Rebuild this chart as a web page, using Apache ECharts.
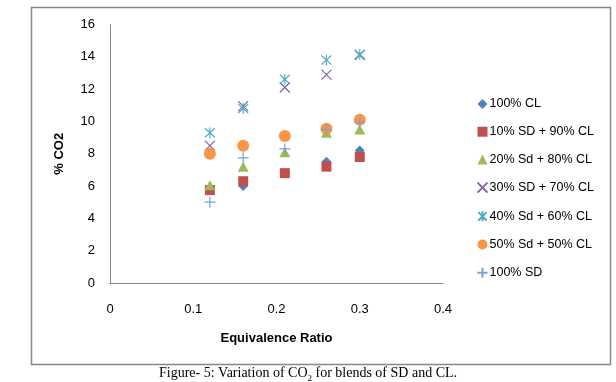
<!DOCTYPE html>
<html>
<head>
<meta charset="utf-8">
<script src="https://cdn.jsdelivr.net/npm/echarts@6/dist/echarts.min.js"></script>
<style>
html,body{margin:0;padding:0;background:#fff;}
#c{width:616px;height:382px;}
</style>
</head>
<body>
<div id="c"></div>
<script>
var ratios = [0.12, 0.16, 0.21, 0.26, 0.30];
var cl100 = [5.8, 6.0, 6.8, 7.5, 8.2];
var sd10 = [5.75, 6.3, 6.8, 7.2, 7.8];
var sd20 = [6.05, 7.2, 8.1, 9.3, 9.5];
var sd30 = [8.5, 10.95, 12.1, 12.9, 14.1];
var sd40 = [9.3, 10.8, 12.6, 13.8, 14.15];
var sd50 = [8.0, 8.5, 9.1, 9.55, 10.1];
var sd100 = [5.0, 7.75, 8.3, 9.5, 9.95];
var seriesNames = ['100% CL', '10% SD + 90% CL', '20% Sd + 80% CL', '30% SD + 70% CL', '40% Sd + 60% CL', '50% Sd + 50% CL', '100% SD'];
var xTicks = [0, 0.1, 0.2, 0.3, 0.4];
var yTicks = [0, 2, 4, 6, 8, 10, 12, 14, 16];

var allValues = [cl100, sd10, sd20, sd30, sd40, sd50, sd100];
function pts(vals){ return ratios.map(function(x,i){ return [x, vals[i]]; }); }

var FONT = '"Liberation Sans", Arial, sans-serif';
var styles = [
  {symbol:'diamond', size:[10,10], item:{color:'#4F81BD'}},
  {symbol:'rect', size:[10,10], item:{color:'#C0504D'}},
  {symbol:'triangle', size:[11,10], item:{color:'#9BBB59'}},
  {symbol:'path://M0,0L10,10M10,0L0,10', size:[10,10], item:{color:'none', borderColor:'#8064A2', borderWidth:1.2}},
  {symbol:'path://M0,0L10,10M10,0L0,10M5,-1L5,11', size:[10,11], item:{color:'none', borderColor:'#4BACC6', borderWidth:1.2}},
  {symbol:'circle', size:12, item:{color:'#F79646'}},
  {symbol:'path://M5,0L5,10M0,5L10,5', size:[11,11], item:{color:'none', borderColor:'#7BA0D6', borderWidth:1.2}}
];

var series = allValues.map(function(v, i){
  var it = Object.assign({opacity: 1}, styles[i].item);
  return {
    name: seriesNames[i],
    type: 'scatter',
    data: pts(v),
    symbol: styles[i].symbol,
    symbolSize: styles[i].size,
    itemStyle: it,
    emphasis: {disabled: true}
  };
});

var chart = echarts.init(document.getElementById('c'), null, {renderer:'canvas'});
chart.setOption({
  animation: false,
  backgroundColor: '#fff',
  grid: {left: 110, right: 173, top: 24.5, bottom: 99, containLabel: false},
  xAxis: {
    type: 'value', min: xTicks[0], max: xTicks[xTicks.length-1], interval: 0.1,
    axisLine: {show: true, lineStyle: {color: '#888', width: 1}},
    axisTick: {show: false},
    splitLine: {show: false},
    axisLabel: {margin: 20, fontSize: 13, color: '#000', fontFamily: FONT,
      formatter: function(v){ return String(Math.round(v*10)/10); }},
    name: 'Equivalence Ratio', nameLocation: 'middle', nameGap: 49,
    nameTextStyle: {fontSize: 13, fontWeight: 'bold', color: '#000', fontFamily: FONT}
  },
  yAxis: {
    type: 'value', min: yTicks[0], max: yTicks[yTicks.length-1], interval: 2,
    axisLine: {show: true, lineStyle: {color: '#888', width: 1}},
    axisTick: {show: false},
    splitLine: {show: false},
    axisLabel: {margin: 15, fontSize: 13, color: '#000', fontFamily: FONT},
    name: '% CO2', nameLocation: 'middle', nameGap: 44, nameRotate: 90,
    nameTextStyle: {fontSize: 13, fontWeight: 'bold', color: '#000', fontFamily: FONT}
  },
  legend: {
    orient: 'vertical', left: 470, top: 92,
    itemWidth: 10, itemHeight: 10, itemGap: 13.7,
    textStyle: {fontSize: 12.5, color: '#000', fontFamily: FONT, lineHeight: 14, padding: [0,0,0,-3]},
    data: seriesNames
  },
  graphic: [
    {type: 'rect', shape: {x: 31.5, y: 7.5, width: 579, height: 357}, style: {fill: 'none', stroke: '#888', lineWidth: 1.5}, silent: true, z: -1},
    {type: 'text', left: 'center', top: 366, style: {
      text: '{a|Figure- 5: Variation of CO}{s|2}{a| for blends of SD and CL.}',
      rich: {
        a: {fontFamily: '"Liberation Serif", "Times New Roman", serif', fontSize: 14, fill: '#000', lineHeight: 18, verticalAlign: 'bottom'},
        s: {fontFamily: '"Liberation Serif", "Times New Roman", serif', fontSize: 9, fill: '#000', lineHeight: 18, verticalAlign: 'bottom', padding: [0,0,-3,0]}
      }
    }}
  ],
  series: series
});
</script>
</body>
</html>
